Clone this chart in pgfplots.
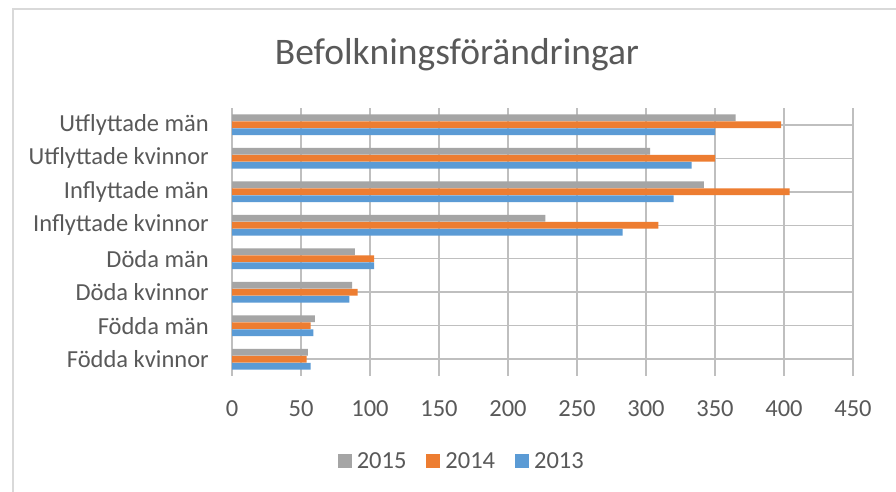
\documentclass[border=0pt]{standalone}
\usepackage{pgfplots}
\pgfplotsset{compat=1.18}
\usepackage{pgfplotstable}
\usepackage{fontspec}
\setmainfont{Carlito}
\definecolor{txt}{HTML}{595959}
\definecolor{c15}{HTML}{A5A5A5}
\definecolor{c14}{HTML}{ED7D31}
\definecolor{c13}{HTML}{5B9BD5}
\definecolor{grid}{HTML}{D9D9D9}
\pgfplotstableread{
y v2015 v2014 v2013
0 55 54 57
1 60 57 59
2 87 91 85
3 89 103 103
4 227 309 283
5 342 404 320
6 303 350 333
7 365 398 350
}\datatable
\begin{document}
\begin{tikzpicture}
\path[use as bounding box] (0pt,0pt) rectangle (896pt,492pt);
\fill[white] (0pt,0pt) rectangle (896pt,492pt);
\draw[grid, line width=1.6pt] (13pt,0pt) -- (13pt,483pt) -- (896pt,483pt);
\node[text=txt, font=\fontsize{37.5}{42}\selectfont, anchor=center] at (457pt,437pt) {Befolkningsförändringar};
\begin{axis}[
  at={(232pt,116pt)}, anchor=south west,
  width=621pt, height=268pt, scale only axis,
  xmin=0, xmax=450, ymin=-0.5, ymax=7.5,
  xtick={0,50,...,450},
  ytick={0,...,7},
  yticklabels={Födda kvinnor, Födda män, Döda kvinnor, Döda män, Inflyttade kvinnor, Inflyttade män, Utflyttade kvinnor, Utflyttade män},
  axis line style={draw=none},
  major tick length=0pt,
  xmajorgrids, major grid style={grid, line width=1.5pt},
  tick label style={text=txt, font=\fontsize{24.5}{27}\selectfont},
  /pgf/number format/assume math mode=true,
  yticklabel style={inner sep=0pt, xshift=-23pt},
  xticklabel style={inner sep=0pt, yshift=-24pt},
  xbar, bar width=0.2,
  legend style={at={(0.37,-0.317)}, anchor=center, draw=none, legend columns=3,
    font=\fontsize{24.5}{27}\selectfont, text=txt,
    /tikz/every odd column/.append style={column sep=3pt},
    /tikz/every even column/.append style={column sep=18pt}},
  legend image code/.code={\fill[#1] (0pt,-7pt) rectangle (14pt,7pt);},
]
\addplot[fill=c15, draw=none, bar shift=0.21] table[x=v2015, y=y] {\datatable};
\addplot[fill=c14, draw=none, bar shift=0] table[x=v2014, y=y] {\datatable};
\addplot[fill=c13, draw=none, bar shift=-0.21] table[x=v2013, y=y] {\datatable};
\legend{2015, 2014, 2013}
\end{axis}
\end{tikzpicture}
\end{document}
